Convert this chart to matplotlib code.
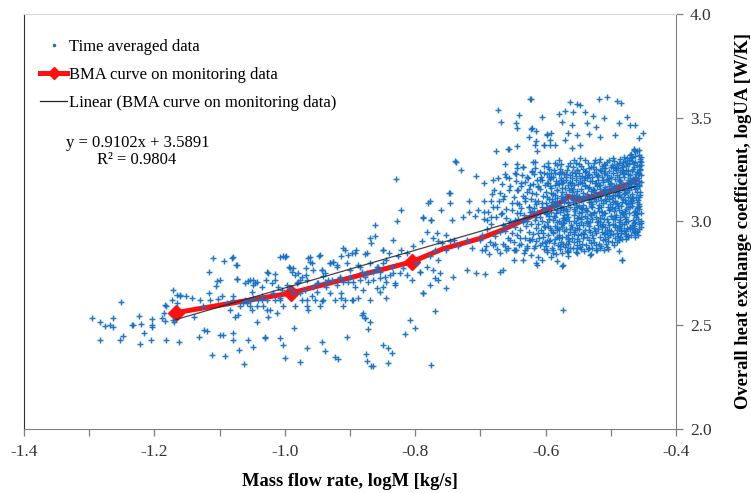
import numpy as np
import matplotlib.pyplot as plt
from matplotlib.lines import Line2D

plt.rcParams['font.family'] = ['Liberation Serif', 'DejaVu Serif']
plt.rcParams['axes.unicode_minus'] = False

# BMA curve (red)
bma_x = [-1.167, -0.990, -0.805, -0.757, -0.700, -0.665, -0.614, -0.590, -0.575, -0.564,
         -0.552, -0.530, -0.511, -0.490, -0.466, -0.462]
bma_y = [2.560, 2.655, 2.805, 2.868, 2.918, 2.960, 3.035, 3.070, 3.095, 3.120,
         3.104, 3.118, 3.139, 3.158, 3.190, 3.200]

# linear trendline of the BMA curve, as printed on the chart
slope = 0.9102
intercept = 3.5891
r2 = 0.9804

# time averaged data, sparse part (x = logM, y = logUA)
sparse_x = [
    -1.296, -1.283, -1.276, -1.268, -1.263, -1.264, -1.252, -1.283, -1.253, -1.248, -1.233, -1.223,
    -1.221, -1.216, -1.222, -1.203, -1.203, -1.203, -1.205, -1.189, -1.182, -1.162, -1.182, -1.173,
    -1.166, -1.166, -1.184, -1.172, -1.170, -1.161, -1.235, -1.186, -1.184, -1.171,
    -1.110, -1.093, -1.080, -1.075, -1.116, -1.104, -1.099, -1.074, -1.105, -1.056, -1.048, -1.046,
    -1.028, -1.015, -1.002, -0.998, -0.993, -0.987, -0.980, -0.977, -0.967, -0.967, -0.961, -0.959,
    -0.947, -0.943, -0.942, -0.931, -0.926, -0.920, -0.910, -0.913, -0.905, -0.897, -0.891, -0.885,
    -0.877, -0.869, -0.867, -0.862, -0.862,
    -1.131, -1.124, -1.119, -1.112, -1.100, -1.095, -1.091, -1.080, -1.079, -1.070, -1.062, -1.057,
    -1.049, -1.043, -1.031, -1.030, -1.007, -1.002, -0.999, -0.986, -0.976, -0.966, -0.943, -0.938,
    -0.923, -0.918, -0.905, -0.875, -0.874, -0.865, -0.882, -0.877, -0.872, -0.869,
    -1.161, -1.151, -1.143, -1.140, -1.130, -1.125, -1.117, -1.115, -1.102, -1.097, -1.089, -1.084,
    -1.079, -1.076, -1.071, -1.069, -1.061, -1.058, -1.053, -1.051, -1.048, -1.043, -1.041, -1.035,
    -1.033, -1.028, -1.025, -1.023, -1.018, -1.015, -1.012, -1.007, -1.005, -1.002, -0.997, -0.992,
    -0.987, -0.984, -0.982, -0.977, -0.974, -0.969, -0.966, -0.964, -0.959, -0.956, -0.954, -0.951,
    -0.949, -0.946, -0.941, -0.938, -0.936, -0.931, -0.928, -0.923, -0.920, -0.915, -0.913, -0.910,
    -0.908, -0.903, -0.900, -0.895, -0.892, -0.887, -0.885, -0.880, -0.874, -0.872, -0.869, -0.864,
    -0.859, -0.857,
    -1.081, -1.074, -1.074, -1.061, -1.053, -1.048, -1.051, -1.043, -1.035, -1.029, -1.025, -1.020,
    -1.015, -1.010, -1.007, -0.999, -0.992, -0.989, -0.984, -0.979, -0.974, -0.966, -0.961, -0.964,
    -0.956, -0.951, -0.946, -0.943, -0.938, -0.933, -0.931, -0.926, -0.920, -0.915, -0.910, -0.908,
    -0.903, -0.900, -0.895, -0.892, -0.887, -0.882, -0.877, -0.874, -0.869, -0.864, -0.859, -0.854,
    -0.849, -0.846, -0.844,
    -1.079, -1.064, -1.053, -1.035, -1.028, -1.007, -0.966, -0.943, -0.913, -0.897, -0.880, -0.877,
    -0.829, -0.821, -0.828, -0.834, -0.849, -0.840, -0.826, -0.821, -0.813, -0.803, -0.790, -0.780,
    -0.788, -0.775, -0.767, -0.854, -0.845, -0.839, -0.831, -0.823, -0.813, -0.805, -0.788, -0.782,
    -0.772, -0.770, -0.808, -0.800, -0.765, -0.849, -0.836, -0.854, -0.844, -0.798, -0.777, -0.770,
    -0.765, -0.793, -0.759, -0.752, -0.747, -0.747, -0.739,
    -0.859, -0.849, -0.831, -0.834, -0.818, -0.793, -0.788, -0.777, -0.770, -0.762, -0.752, -0.742,
    -0.721, -0.707, -0.693, -0.670, -0.816, -0.849, -0.841, -0.835, -0.841, -0.867, -0.775, -0.614,
    -0.573, -0.573, -0.532, -0.483, -0.552, -0.511, -0.565, -0.598, -0.629, -0.649,
    -0.737, -0.729, -0.676, -0.657, -0.644, -0.662, -0.644, -0.616, -0.603, -0.593, -0.616, -0.647,
    -0.660, -0.673, -0.681, -0.695, -0.706, -0.748, -0.746, -0.717, -0.694, -0.684, -0.679, -0.670,
    -0.666, -0.655, -0.644, -0.637, -0.629, -0.621, -0.634, -0.777, -0.788, -0.775, -0.761, -0.744,
    -0.726, -0.717, -0.708, -0.703, -0.695, -0.690, -0.683, -0.675, -0.667, -0.660, -0.652, -0.644,
    -0.639, -0.632, -0.626, -0.621, -0.616, -0.611, -0.609, -0.603, -0.598, -0.596, -0.591, -0.586,
    -0.583, -0.578, -0.575, -0.573, -0.568,
    -0.782, -0.772, -0.765, -0.752, -0.741, -0.734, -0.721, -0.713, -0.701, -0.693, -0.680, -0.670,
    -0.662, -0.655, -0.647, -0.639, -0.632, -0.624, -0.616, -0.611, -0.606, -0.601, -0.593, -0.588,
    -0.583, -0.578, -0.573, -0.568, -0.665, -0.655, -0.647, -0.634, -0.624, -0.614, -0.606, -0.591,
    -0.583, -0.573,
    -0.613, -0.583, -0.574, -0.565, -0.552, -0.531, -0.522, -0.504, -0.488, -0.483, -0.649, -0.634,
    -0.660, -0.665,
    -0.623, -0.562, -0.551, -0.547, -0.518, -0.505, -0.490, -0.484, -0.570, -0.579, -0.558, -0.540,
    -0.527, -0.606, -0.640, -0.668, -0.645, -0.623, -0.615, -0.598, -0.591, -0.575, -0.560, -0.537,
    -0.522, -0.511, -0.488, -0.475, -0.470, -0.463, -0.451, -0.456, -0.494, -0.516, -0.534, -0.552,
    -0.565, -0.570, -0.586, -0.603, -0.614, -0.625, -0.593, -0.656, -0.613, -0.560, -0.547, -0.619,
    -0.662, -0.656, -0.644, -0.673, -0.624, -0.644, -0.621, -0.598,
    -0.698, -0.695, -0.692, -0.690, -0.688, -0.685, -0.683, -0.680, -0.678, -0.676, -0.674, -0.672,
    -0.670, -0.668, -0.666, -0.664, -0.662, -0.660, -0.658, -0.656, -0.654, -0.652, -0.651, -0.697,
    -0.687, -0.677, -0.667, -0.657, -0.682, -0.662,
]
sparse_y = [
    2.533, 2.517, 2.498, 2.500, 2.490, 2.536, 2.613, 2.426, 2.426, 2.450, 2.503, 2.545,
    2.506, 2.461, 2.410, 2.529, 2.500, 2.490, 2.426, 2.536, 2.429, 2.418, 2.593, 2.622,
    2.646, 2.609, 2.520, 2.525, 2.516, 2.638, 2.501, 2.557, 2.598, 2.670,
    2.822, 2.810, 2.827, 2.790, 2.755, 2.715, 2.718, 2.723, 2.689, 2.715, 2.718, 2.702,
    2.755, 2.747, 2.831, 2.831, 2.782, 2.774, 2.710, 2.718, 2.742, 2.774, 2.827, 2.798,
    2.835, 2.766, 2.737, 2.798, 2.806, 2.790, 2.871, 2.831, 2.798, 2.847, 2.863, 2.782,
    2.842, 2.919, 2.895, 2.983, 2.930,
    2.445, 2.477, 2.474, 2.357, 2.453, 2.453, 2.352, 2.461, 2.429, 2.381, 2.312, 2.429,
    2.397, 2.517, 2.445, 2.437, 2.440, 2.405, 2.341, 2.485, 2.321, 2.389, 2.421, 2.373,
    2.345, 2.336, 2.445, 2.361, 2.328, 2.304, 2.549, 2.533, 2.480, 2.517,
    2.646, 2.638, 2.630, 2.541, 2.622, 2.590, 2.654, 2.622, 2.627, 2.638, 2.606, 2.573,
    2.638, 2.541, 2.549, 2.590, 2.622, 2.606, 2.614, 2.573, 2.630, 2.590, 2.622, 2.638,
    2.590, 2.622, 2.541, 2.573, 2.654, 2.622, 2.557, 2.630, 2.670, 2.590, 2.694, 2.678,
    2.654, 2.590, 2.702, 2.654, 2.622, 2.670, 2.590, 2.573, 2.638, 2.686, 2.622, 2.662,
    2.702, 2.590, 2.622, 2.710, 2.686, 2.654, 2.718, 2.622, 2.694, 2.726, 2.654, 2.590,
    2.622, 2.710, 2.734, 2.622, 2.686, 2.630, 2.718, 2.670, 2.750, 2.710, 2.622, 2.758,
    2.678, 2.782,
    2.822, 2.790, 2.721, 2.702, 2.718, 2.694, 2.662, 2.710, 2.686, 2.718, 2.753, 2.702,
    2.718, 2.683, 2.830, 2.830, 2.774, 2.758, 2.742, 2.753, 2.734, 2.718, 2.806, 2.822,
    2.766, 2.702, 2.838, 2.766, 2.750, 2.718, 2.798, 2.806, 2.782, 2.734, 2.710, 2.863,
    2.838, 2.766, 2.710, 2.846, 2.790, 2.758, 2.734, 2.846, 2.798, 2.718, 2.782, 2.758,
    2.863, 2.734, 2.814,
    2.622, 2.606, 2.590, 2.622, 2.573, 2.622, 2.622, 2.614, 2.630, 2.622, 2.557, 2.533,
    3.203, 3.055, 3.004, 2.908, 2.863, 2.847, 2.834, 2.863, 2.847, 2.879, 2.903, 3.088,
    3.015, 3.007, 2.943, 2.726, 2.710, 2.742, 2.694, 2.750, 2.742, 2.718, 2.654, 2.782,
    2.766, 2.566, 2.525, 2.485, 2.718, 2.798, 2.782, 2.662, 2.630, 2.798, 2.831, 2.863,
    2.815, 2.758, 2.895, 2.863, 2.903, 3.136, 3.289,
    2.766, 2.686, 2.702, 2.750, 2.774, 2.758, 2.654, 2.694, 2.726, 2.750, 2.678, 2.734,
    2.766, 2.753, 2.747, 2.758, 2.458, 2.405, 2.389, 2.368, 2.316, 2.304, 2.308, 2.798,
    2.790, 2.573, 2.838, 2.814, 2.846, 2.863, 2.855, 2.863, 2.879, 2.863,
    3.288, 3.248, 3.337, 3.348, 3.361, 3.277, 3.277, 3.369, 3.369, 3.369, 3.288, 3.232,
    3.216, 3.208, 3.200, 3.187, 3.219, 3.136, 3.088, 3.100, 3.096, 3.096, 3.152, 3.136,
    3.107, 3.168, 3.152, 3.184, 3.216, 3.240, 3.264, 3.096, 3.023, 3.007, 3.055, 3.007,
    3.023, 3.047, 3.026, 3.055, 3.047, 3.007, 3.023, 3.071, 3.039, 3.015, 3.055, 3.088,
    3.039, 3.112, 3.071, 3.136, 3.096, 3.168, 3.200, 3.232, 3.184, 3.264, 3.216, 3.280,
    3.152, 3.240, 3.184, 3.112, 3.216,
    2.951, 2.919, 2.903, 2.935, 2.911, 2.879, 2.911, 2.871, 2.911, 2.863, 2.887, 2.847,
    2.879, 2.911, 2.863, 2.919, 2.863, 2.911, 2.879, 2.943, 2.895, 2.975, 2.911, 2.847,
    2.959, 2.879, 2.991, 2.927, 2.983, 2.991, 3.007, 3.007, 3.047, 3.023, 3.071, 3.080,
    3.055, 3.063,
    2.790, 2.810, 2.786, 2.850, 2.871, 2.842, 2.863, 2.866, 2.859, 2.814, 2.814, 2.814,
    2.863, 2.766,
    3.589, 3.577, 3.566, 3.561, 3.589, 3.598, 3.582, 3.570, 3.534, 3.518, 3.525, 3.525,
    3.508, 3.502, 3.513, 3.478, 3.473, 3.444, 3.433, 3.422, 3.425, 3.481, 3.465, 3.473,
    3.457, 3.497, 3.473, 3.505, 3.465, 3.465, 3.425, 3.401, 3.417, 3.406, 3.422, 3.417,
    3.425, 3.393, 3.369, 3.369, 3.385, 3.406, 3.393, 3.348, 3.341, 3.353, 3.369, 3.288,
    3.229, 3.208, 3.256, 3.537, 3.589, 3.449, 3.449, 3.417,
    2.934, 3.012, 2.881, 2.965, 3.043, 2.902, 2.987, 3.071, 2.928, 3.019, 2.866, 3.098,
    2.951, 3.037, 2.893, 3.124, 2.976, 3.058, 2.918, 3.151, 3.003, 2.944, 3.087, 2.860,
    2.845, 2.889, 3.180, 2.870, 3.132, 2.955,
]

# time averaged data, dense cloud at high mass flow
cloud_x = [
    -0.649, -0.648, -0.647, -0.646, -0.645, -0.644, -0.643, -0.642, -0.642, -0.641, -0.640, -0.646,
    -0.639, -0.638, -0.637, -0.637, -0.636, -0.635, -0.634, -0.633, -0.633, -0.632, -0.631, -0.631, -0.630, -0.635,
    -0.629, -0.628, -0.628, -0.627, -0.626, -0.626, -0.625, -0.624, -0.624, -0.623, -0.622, -0.622, -0.621, -0.621, -0.620, -0.625,
    -0.619, -0.619, -0.618, -0.617, -0.617, -0.616, -0.615, -0.615, -0.614, -0.613, -0.613, -0.612, -0.612, -0.611, -0.611, -0.610, -0.616, -0.614,
    -0.609, -0.609, -0.608, -0.608, -0.607, -0.606, -0.606, -0.605, -0.605, -0.604, -0.604, -0.603, -0.603, -0.602, -0.602, -0.601, -0.601, -0.600, -0.607, -0.604,
    -0.599, -0.599, -0.598, -0.598, -0.597, -0.597, -0.596, -0.596, -0.595, -0.595, -0.594, -0.594, -0.593, -0.593, -0.592, -0.592, -0.591, -0.591, -0.590, -0.590, -0.596, -0.594, -0.598, -0.592,
    -0.589, -0.589, -0.588, -0.588, -0.588, -0.587, -0.587, -0.586, -0.586, -0.585, -0.585, -0.584, -0.584, -0.584, -0.583, -0.583, -0.582, -0.582, -0.581, -0.581, -0.580, -0.580, -0.586, -0.583, -0.587, -0.581,
    -0.579, -0.579, -0.578, -0.578, -0.578, -0.577, -0.577, -0.576, -0.576, -0.576, -0.575, -0.575, -0.574, -0.574, -0.573, -0.573, -0.573, -0.572, -0.572, -0.571, -0.571, -0.570, -0.570, -0.577, -0.575, -0.572, -0.574, -0.579,
    -0.569, -0.569, -0.568, -0.568, -0.568, -0.567, -0.567, -0.566, -0.566, -0.566, -0.565, -0.565, -0.564, -0.564, -0.564, -0.563, -0.563, -0.562, -0.562, -0.562, -0.561, -0.561, -0.560, -0.560, -0.567, -0.565, -0.563, -0.561, -0.569, -0.566,
    -0.559, -0.559, -0.558, -0.558, -0.558, -0.557, -0.557, -0.557, -0.556, -0.556, -0.555, -0.555, -0.555, -0.554, -0.554, -0.553, -0.553, -0.553, -0.552, -0.552, -0.551, -0.551, -0.551, -0.550, -0.550, -0.556, -0.554, -0.552, -0.558, -0.550, -0.557, -0.553,
    -0.549, -0.549, -0.548, -0.548, -0.548, -0.547, -0.547, -0.546, -0.546, -0.546, -0.545, -0.545, -0.544, -0.544, -0.544, -0.543, -0.543, -0.542, -0.542, -0.542, -0.541, -0.541, -0.540, -0.540, -0.547, -0.545, -0.543, -0.541, -0.549, -0.546, -0.544, -0.540,
    -0.539, -0.539, -0.538, -0.538, -0.538, -0.537, -0.537, -0.536, -0.536, -0.536, -0.535, -0.535, -0.534, -0.534, -0.534, -0.533, -0.533, -0.532, -0.532, -0.532, -0.531, -0.531, -0.530, -0.530, -0.537, -0.535, -0.533, -0.531, -0.539, -0.536, -0.534, -0.530,
    -0.529, -0.529, -0.528, -0.528, -0.528, -0.527, -0.527, -0.526, -0.526, -0.526, -0.525, -0.525, -0.524, -0.524, -0.524, -0.523, -0.523, -0.522, -0.522, -0.522, -0.521, -0.521, -0.520, -0.520, -0.527, -0.525, -0.523, -0.521, -0.529, -0.526, -0.524, -0.520,
    -0.519, -0.519, -0.518, -0.518, -0.518, -0.517, -0.517, -0.516, -0.516, -0.516, -0.515, -0.515, -0.514, -0.514, -0.514, -0.513, -0.513, -0.512, -0.512, -0.512, -0.511, -0.511, -0.510, -0.510, -0.517, -0.515, -0.513, -0.511, -0.519, -0.516, -0.514, -0.510, -0.518, -0.512,
    -0.509, -0.509, -0.508, -0.508, -0.508, -0.507, -0.507, -0.506, -0.506, -0.506, -0.505, -0.505, -0.504, -0.504, -0.504, -0.503, -0.503, -0.502, -0.502, -0.502, -0.501, -0.501, -0.500, -0.500, -0.507, -0.505, -0.503, -0.501, -0.509, -0.506, -0.504, -0.500, -0.508, -0.502,
    -0.499, -0.499, -0.498, -0.498, -0.498, -0.497, -0.497, -0.497, -0.496, -0.496, -0.495, -0.495, -0.495, -0.494, -0.494, -0.493, -0.493, -0.493, -0.492, -0.492, -0.491, -0.491, -0.491, -0.490, -0.490, -0.496, -0.494, -0.492, -0.498, -0.490, -0.497, -0.493, -0.499, -0.495, -0.491, -0.494,
    -0.489, -0.489, -0.488, -0.488, -0.488, -0.487, -0.487, -0.487, -0.486, -0.486, -0.485, -0.485, -0.485, -0.484, -0.484, -0.483, -0.483, -0.483, -0.482, -0.482, -0.481, -0.481, -0.481, -0.480, -0.480, -0.486, -0.484, -0.482, -0.488, -0.480, -0.487, -0.483, -0.489, -0.485, -0.481, -0.484, -0.486, -0.482,
    -0.479, -0.479, -0.478, -0.478, -0.478, -0.477, -0.477, -0.477, -0.476, -0.476, -0.475, -0.475, -0.475, -0.474, -0.474, -0.473, -0.473, -0.473, -0.472, -0.472, -0.471, -0.471, -0.471, -0.470, -0.470, -0.476, -0.474, -0.472, -0.478, -0.470, -0.477, -0.473, -0.479, -0.475, -0.471, -0.474, -0.476, -0.472, -0.478, -0.470,
    -0.469, -0.466, -0.463, -0.461, -0.468, -0.465, -0.462, -0.460, -0.467, -0.464,
    -0.462, -0.469, -0.465, -0.461, -0.467, -0.463, -0.460, -0.468, -0.466, -0.464,
    -0.465, -0.461, -0.468, -0.463, -0.469, -0.466, -0.462, -0.464, -0.460, -0.467,
    -0.463, -0.467, -0.460, -0.465, -0.462, -0.469, -0.464, -0.461, -0.466, -0.468,
    -0.466, -0.464, -0.469, -0.462, -0.460, -0.467, -0.465, -0.463, -0.468, -0.461,
    -0.459, -0.457, -0.455, -0.458, -0.456, -0.454, -0.459, -0.457, -0.455, -0.453,
    -0.456, -0.458, -0.454, -0.459, -0.455, -0.457, -0.453, -0.458, -0.456, -0.454,
    -0.458, -0.455, -0.459, -0.456, -0.454, -0.457, -0.458, -0.455, -0.453, -0.456,
    -0.457, -0.459, -0.456, -0.454, -0.458, -0.455, -0.457, -0.459, -0.454, -0.456,
    -0.598, -0.585, -0.571, -0.559, -0.546, -0.533, -0.521, -0.508, -0.494, -0.481,
    -0.593, -0.579, -0.566, -0.552, -0.539, -0.526, -0.513, -0.501, -0.488, -0.476,
    -0.596, -0.582, -0.569, -0.556, -0.543, -0.530, -0.517, -0.504, -0.491, -0.478,
    -0.590, -0.576, -0.563, -0.549, -0.536, -0.523, -0.510, -0.497, -0.484, -0.472,
    -0.587, -0.573, -0.560, -0.547, -0.534, -0.519, -0.506, -0.493, -0.480, -0.474,
    -0.594, -0.580, -0.567, -0.554, -0.541, -0.528, -0.515, -0.502, -0.489, -0.477,
    -0.588, -0.575, -0.562, -0.548, -0.535, -0.522, -0.509, -0.496, -0.483, -0.471,
    -0.599, -0.586, -0.572, -0.558, -0.545, -0.532, -0.518, -0.505, -0.492, -0.479,
    -0.591, -0.578, -0.565, -0.551, -0.538, -0.525, -0.512, -0.499, -0.486, -0.473,
    -0.597, -0.583, -0.570, -0.557, -0.544, -0.531, -0.516, -0.503, -0.490, -0.475,
]
cloud_y = [
    2.902, 3.118, 2.975, 3.196, 2.861, 3.041, 2.934, 3.152, 3.010, 2.887, 3.083, 3.230,
    2.958, 3.171, 2.893, 3.062, 3.224, 2.995, 3.120, 2.846, 3.033, 3.189, 2.921, 3.098, 2.977, 3.260,
    3.004, 2.872, 3.141, 3.211, 2.948, 3.069, 2.909, 3.176, 3.027, 2.836, 3.110, 2.985, 3.243, 2.917, 3.052, 3.155,
    2.940, 3.182, 3.066, 2.871, 3.229, 3.006, 3.132, 2.903, 2.968, 3.201, 3.045, 2.829, 3.097, 2.986, 3.166, 2.918, 3.258, 3.083,
    3.021, 2.885, 3.154, 3.238, 2.957, 3.090, 2.812, 3.199, 3.004, 2.926, 3.121, 3.269, 2.866, 3.057, 2.979, 3.175, 2.899, 3.036, 3.213, 2.944,
    2.882, 3.143, 2.996, 3.226, 2.851, 3.071, 3.187, 2.934, 3.012, 3.252, 2.905, 3.109, 2.968, 3.206, 2.827, 3.044, 3.160, 2.956, 3.091, 2.873, 3.282, 3.026, 3.118, 3.233,
    3.006, 3.214, 2.862, 3.130, 2.949, 3.067, 3.248, 2.915, 3.174, 2.980, 3.099, 2.841, 3.196, 3.038, 2.927, 3.271, 3.152, 2.995, 2.884, 3.082, 3.229, 2.962, 3.019, 3.113, 2.898, 3.184,
    2.935, 3.178, 3.045, 2.868, 3.252, 2.989, 3.121, 2.902, 3.210, 3.066, 2.846, 3.143, 2.971, 3.237, 3.014, 2.889, 3.188, 3.091, 2.952, 3.226, 3.030, 2.877, 3.162, 3.274, 2.924, 3.006, 3.104, 3.294,
    3.058, 2.893, 3.197, 2.964, 3.134, 3.247, 2.858, 3.021, 3.173, 2.935, 3.089, 3.266, 2.906, 3.150, 3.002, 3.221, 2.872, 3.071, 2.947, 3.189, 3.117, 2.984, 3.238, 2.919, 3.036, 2.834, 3.283, 3.160, 3.012, 2.889,
    2.975, 3.208, 3.094, 2.871, 3.262, 3.031, 2.941, 3.176, 3.129, 2.899, 3.052, 3.231, 2.958, 3.197, 2.853, 3.106, 2.992, 3.279, 3.144, 2.917, 3.068, 3.249, 2.884, 3.014, 3.181, 3.296, 3.079, 2.969, 3.157, 2.936, 3.001, 3.218,
    3.123, 2.903, 3.041, 3.235, 2.962, 3.188, 2.877, 3.009, 3.268, 3.102, 2.940, 3.157, 3.061, 2.891, 3.220, 2.983, 3.139, 3.254, 2.921, 3.081, 3.198, 2.858, 3.028, 3.170, 3.303, 2.999, 2.946, 3.114, 3.275, 2.867, 3.045, 3.212,
    2.958, 3.176, 3.066, 2.885, 3.243, 3.004, 3.132, 2.926, 3.209, 3.051, 3.280, 2.867, 3.107, 2.977, 3.164, 3.229, 2.912, 3.037, 3.193, 2.950, 3.091, 3.261, 2.898, 3.147, 3.018, 3.224, 2.871, 3.075, 3.296, 2.990, 3.259, 3.119,
    3.083, 2.936, 3.213, 3.012, 2.871, 3.158, 3.262, 2.969, 3.106, 2.902, 3.237, 3.046, 2.955, 3.185, 3.294, 2.885, 3.129, 3.022, 3.251, 2.943, 3.170, 2.998, 3.223, 3.063, 2.918, 3.281, 3.097, 2.864, 3.195, 3.040, 3.143, 2.981,
    2.962, 3.201, 3.052, 3.287, 2.893, 3.124, 2.997, 3.246, 2.926, 3.173, 3.069, 2.881, 3.215, 3.030, 3.142, 2.951, 3.268, 3.090, 2.908, 3.189, 3.011, 3.232, 2.937, 3.157, 3.299, 3.104, 2.979, 3.256, 3.115, 2.873, 3.045, 3.276, 3.177, 2.989,
    3.038, 2.917, 3.166, 3.259, 2.974, 3.097, 2.889, 3.222, 3.013, 3.148, 2.946, 3.284, 3.070, 3.193, 2.904, 3.120, 3.241, 2.981, 3.057, 3.296, 2.932, 3.181, 3.026, 3.264, 3.137, 2.960, 3.208, 3.083, 3.271, 2.877, 2.995, 3.152, 3.232, 3.110,
    2.953, 3.187, 3.068, 3.271, 2.902, 3.126, 3.010, 3.235, 2.937, 3.159, 3.049, 3.292, 2.886, 3.205, 2.975, 3.100, 3.258, 2.921, 3.176, 3.033, 2.960, 3.221, 3.087, 3.143, 2.899, 3.305, 3.019, 3.247, 3.112, 3.276, 2.988, 3.063, 3.214, 3.168, 2.944, 3.128,
    3.076, 2.931, 3.212, 2.997, 3.279, 3.141, 2.908, 3.054, 3.238, 2.966, 3.182, 3.022, 3.301, 2.944, 3.117, 3.260, 2.989, 3.163, 3.092, 2.917, 3.227, 3.035, 3.286, 2.959, 3.150, 3.199, 3.073, 3.248, 3.128, 3.311, 2.978, 3.043, 3.255, 2.925, 3.107, 3.190, 3.006, 3.270,
    2.987, 3.232, 3.104, 2.941, 3.289, 3.058, 3.176, 2.913, 3.265, 3.020, 3.141, 3.307, 2.966, 3.200, 3.085, 2.932, 3.249, 3.119, 3.038, 3.296, 2.975, 3.186, 3.067, 3.224, 3.318, 2.952, 3.162, 3.275, 3.010, 3.097, 3.241, 3.002, 3.132, 3.283, 3.209, 2.924, 3.089, 3.153, 3.050, 2.961,
    2.936, 3.112, 3.287, 3.021, 3.195, 2.978, 3.338, 3.064, 3.243, 2.951,
    3.154, 3.305, 2.992, 3.226, 3.087, 2.944, 3.271, 3.131, 3.008, 3.349,
    3.043, 3.182, 2.963, 3.317, 3.098, 3.254, 2.927, 3.170, 3.036, 3.293,
    3.215, 2.984, 3.141, 3.262, 3.052, 3.326, 2.970, 3.119, 3.204, 3.076,
    3.281, 3.030, 3.165, 2.955, 3.239, 3.105, 3.344, 2.999, 3.312, 3.187,
    2.948, 3.176, 3.301, 3.067, 3.229, 2.991, 3.338, 3.115, 3.253, 3.042,
    3.196, 2.932, 3.284, 3.091, 3.142, 3.322, 2.975, 3.208, 3.060, 3.270,
    3.013, 3.247, 3.159, 2.961, 3.310, 3.083, 3.234, 3.127, 3.004, 3.346,
    3.268, 3.038, 2.986, 3.191, 3.104, 3.291, 3.171, 2.955, 3.222, 3.072,
    3.041, 3.127, 2.992, 3.184, 3.063, 2.958, 3.219, 3.106, 3.012, 3.247,
    3.168, 2.918, 3.093, 3.014, 3.236, 3.140, 2.973, 3.058, 3.193, 2.995,
    2.978, 3.085, 3.229, 2.947, 3.117, 3.031, 3.158, 2.925, 3.082, 3.137,
    3.109, 3.201, 2.961, 3.075, 2.991, 3.186, 3.041, 3.262, 2.953, 3.176,
    3.024, 3.056, 3.140, 3.208, 3.095, 3.004, 3.123, 2.983, 3.214, 3.068,
    3.212, 3.001, 3.049, 3.126, 2.939, 3.071, 3.245, 3.171, 3.120, 2.928,
    2.946, 3.159, 3.187, 2.984, 3.163, 3.229, 2.946, 3.094, 3.041, 3.115,
    3.088, 3.232, 3.017, 3.101, 3.019, 2.997, 3.078, 3.203, 3.256, 3.034,
    3.135, 3.075, 2.914, 3.246, 3.054, 3.150, 3.199, 3.027, 2.967, 3.226,
    2.905, 2.966, 3.114, 3.059, 3.187, 3.113, 3.016, 2.960, 3.153, 3.182,
]

x_major = [-1.4, -1.2, -1.0, -0.8, -0.6, -0.4]
x_minor = [-1.3, -1.1, -0.9, -0.7, -0.5]
y_ticks = [2.0, 2.5, 3.0, 3.5, 4.0]

blue = '#1670c4'

fig = plt.figure(figsize=(7.51, 4.93), dpi=100)
ax = fig.add_axes([0.032, 0.13, 0.868, 0.842])

ax.plot(bma_x, bma_y, color='#ff1010', lw=3.6, solid_capstyle='round', zorder=2)
ax.plot(bma_x[:3], bma_y[:3], ls='none', marker='D', ms=8.5, color='#ff1010', zorder=2)
ax.plot(sparse_x + cloud_x, sparse_y + cloud_y, ls='none', marker='+', ms=5, mew=1.05,
        color=blue, alpha=0.95, zorder=3)
fit_x = np.array([min(bma_x), max(bma_x)])
ax.plot(fit_x, slope * fit_x + intercept, color='#222222', lw=0.9, alpha=0.85, zorder=4)

ax.set_xlim(-1.4, -0.4)
ax.set_ylim(2.0, 4.0)
ax.set_xticks(x_major)
ax.set_xticklabels(['%.1f' % v for v in x_major])
ax.set_xticks(x_minor, minor=True)
ax.set_yticks(y_ticks)
ax.set_yticklabels(['%.1f' % v for v in y_ticks])
ax.yaxis.tick_right()
ax.yaxis.set_label_position('right')
ax.tick_params(axis='both', which='both', direction='out', length=5, width=0.9,
               color='#808080', labelsize=12.5, labelcolor='#333333')
ax.tick_params(axis='x', pad=6)
ax.tick_params(axis='y', pad=5)

ax.spines['left'].set_color('#303030')
ax.spines['bottom'].set_color('#808080')
ax.spines['right'].set_color('#808080')
ax.spines['top'].set_color('#d9d9d9')

ax.set_xlabel('Mass flow rate, logM [kg/s]', fontsize=13.3, fontweight='bold', labelpad=9)
ax.set_ylabel('Overall heat exchange coefficient, logUA [W/K]', fontsize=13.3,
              fontweight='bold', labelpad=17)

handles = [
    Line2D([], [], ls='none', marker='.', ms=3, color=blue),
    Line2D([], [], color='#ff1010', lw=3.6, marker='D', ms=6),
    Line2D([], [], color='#222222', lw=0.9),
]
labels = ['Time averaged data', 'BMA curve on monitoring data',
          'Linear (BMA curve on monitoring data)']
ax.legend(handles, labels, loc='upper left', bbox_to_anchor=(0.015, 0.955), frameon=False,
          fontsize=12, handlelength=1.6, handletextpad=0.1, labelspacing=0.72, borderaxespad=0)

ax.text(0.064, 0.689, 'y = %.4fx + %.4f' % (slope, intercept), transform=ax.transAxes,
        fontsize=12, va='center', ha='left')
ax.text(0.112, 0.648, 'R² = %.4f' % r2, transform=ax.transAxes, fontsize=12,
        va='center', ha='left')

fig.savefig('out.png', dpi=100)
